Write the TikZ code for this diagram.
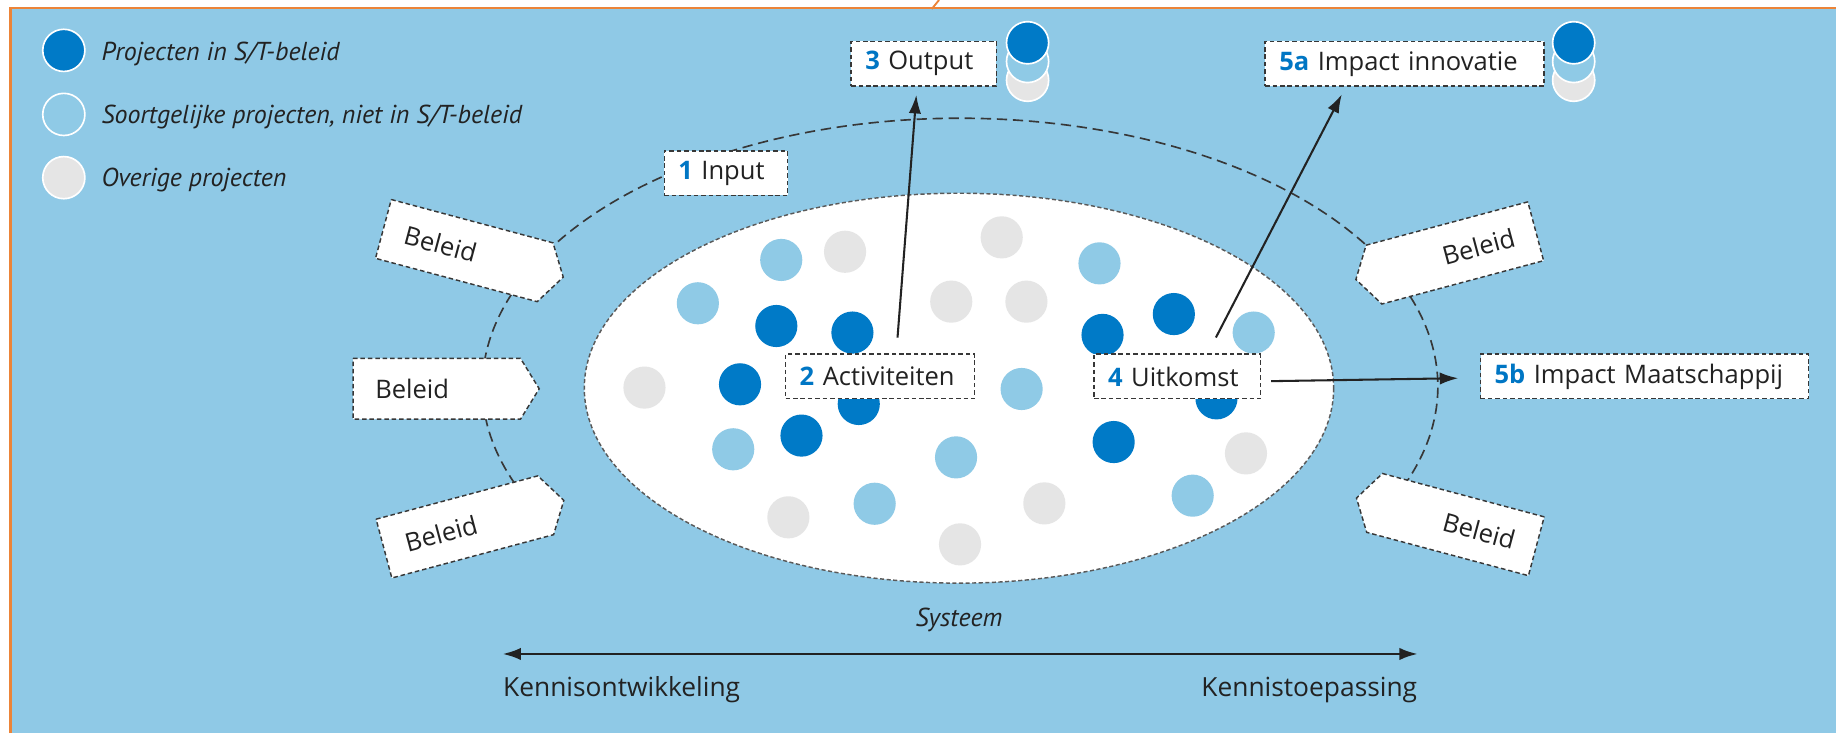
\documentclass[tikz,border=0pt]{standalone}
\usepackage{fontspec}
\setmainfont{Open Sans}
\newfontfamily\legfont{PT Sans}
\usetikzlibrary{arrows.meta}
\definecolor{bgblue}{RGB}{143,201,230}
\definecolor{dkblue}{RGB}{0,122,199}
\definecolor{ltblue}{RGB}{143,202,230}
\definecolor{dotgrey}{RGB}{229,229,229}
\definecolor{numblue}{RGB}{0,118,196}
\definecolor{txtcol}{RGB}{34,34,34}
\definecolor{framecol}{RGB}{236,132,56}
\definecolor{dashcol}{RGB}{55,55,55}
\newcommand{\boxnum}[1]{{\bfseries\color{numblue}#1}}
\tikzset{
  txtfont/.style={font=\fontsize{6.2}{7.4}\selectfont, text=txtcol},
  axfont/.style={font=\fontsize{6.4}{7.6}\selectfont, text=txtcol},
  itfont/.style={font=\legfont\itshape\fontsize{6.3}{7.6}\selectfont, text=txtcol},
  boxline/.style={draw=dashcol, line width=0.35pt, dash pattern=on 1.1pt off 0.7pt},
  lbl/.style={txtfont, boxline, fill=white, minimum height=0.38cm, inner xsep=0.12cm, inner ysep=0pt, align=left},
  arr/.style={draw=txtcol, line width=0.5pt, -{Latex[length=4.5pt,width=3pt]}},
  dotD/.style={fill=dkblue},
  dotL/.style={fill=ltblue},
  dotG/.style={fill=dotgrey},
  legdot/.style={draw=white, line width=0.4pt},
  beleidR/.pic={
    \draw[boxline, fill=white] (-71.5,-26) -- (71.5,-26) -- (87.5,0) -- (71.5,26) -- (-71.5,26) -- cycle;
    \node[txtfont, transform shape, inner sep=0pt] (-t) at (-21,0) {Beleid};
  },
  beleidL/.pic={
    \draw[boxline, fill=white] (71.5,-26) -- (-71.5,-26) -- (-87.5,0) -- (-71.5,26) -- (71.5,26) -- cycle;
    \node[txtfont, transform shape, inner sep=0pt] (-t) at (21,0) {Beleid};
  }
}
\begin{document}
\begin{tikzpicture}[x=0.01cm, y=-0.01cm]
\useasboundingbox (0,0) rectangle (1568,626);
% background and frame
\fill[white] (0,0) rectangle (1568,626);
\fill[bgblue] (10.2,7.7) rectangle (1568,626);
\draw[framecol, line width=0.6pt] (9,626) -- (9,6.7) -- (1568,6.7);
\draw[framecol, line width=0.45pt] (795.7,7.7) -- (802,0);

% legend
\filldraw[legdot, dotD] (54.5,43) circle[radius=18];
\filldraw[legdot, dotL] (54.5,97.7) circle[radius=18];
\filldraw[legdot, dotG] (54.5,151.7) circle[radius=18];
\node[itfont, anchor=base west, inner sep=0pt] (leg1) at (86,51.8) {Projecten in S/T-beleid};
\node[itfont, anchor=base west, inner sep=0pt] (leg2) at (86,105.3) {Soortgelijke projecten, niet in S/T-beleid};
\node[itfont, anchor=base west, inner sep=0pt] (leg3) at (86,158.9) {Overige projecten};

% outer dashed system arc
\draw[draw=dashcol, line width=0.4pt, dash pattern=on 2.5pt off 1.4pt]
  (820,330) ++(150:408 and 229) arc[start angle=150, end angle=390, x radius=408, y radius=229];

% inner white ellipse
\filldraw[fill=white, draw=gray!70!black, line width=0.35pt, dash pattern=on 1pt off 0.6pt]
  (819,331.5) ellipse[x radius=320, y radius=166.5];

% dots
\foreach \p in {(667.2,222),(939,224.9),(596,259),(1070.7,284),(872.5,332.2),(626.2,383.7),(816.5,390.6),(747,430.2),(1018.6,423.3)}
  \fill[dotL] \p circle[radius=18];
\foreach \p in {(721.7,215),(855.5,202.7),(812.4,257.6),(876.6,257.6),(550.4,331),(1064.1,387.2),(673.3,441.8),(891.9,429.9),(819.9,464.9)}
  \fill[dotG] \p circle[radius=18];
\foreach \p in {(663,278.4),(728,284),(1002.5,268.2),(941.6,286),(632,328.2),(733.4,345),(1038.9,340.2),(684.5,372),(951.1,377.5)}
  \fill[dotD] \p circle[radius=18];

% Beleid boxes
\pic (bl1) [rotate=-15] at (396.5,214) {beleidR};
\pic (bl2) at (373,332) {beleidR};
\pic (bl3) [rotate=15] at (397,450) {beleidR};
\pic (br1) [rotate=15] at (1242.5,216) {beleidL};
\pic (br3) [rotate=-15] at (1243,448) {beleidL};

% stacked dots
\filldraw[legdot, dotG] (877.6,68.5) circle[radius=18];
\filldraw[legdot, dotL] (877.6,52.5) circle[radius=18];
\filldraw[legdot, dotD] (877.6,36.5) circle[radius=18];
\filldraw[legdot, dotG] (1344,68.5) circle[radius=18];
\filldraw[legdot, dotL] (1344,52.5) circle[radius=18];
\filldraw[legdot, dotD] (1344,36.5) circle[radius=18];

% labelled boxes
\node[lbl, text width=0.813cm] (input) at (620,147.8) {\boxnum{1} Input};
\node[lbl, text width=1.37cm] (act) at (751.5,321.5) {\boxnum{2} Activiteiten};
\node[lbl, text width=1.18cm] (uit) at (1005.4,321.5) {\boxnum{4} Uitkomst};
\node[lbl, text width=1.00cm] (out) at (789,54.4) {\boxnum{3} Output};
\node[lbl, text width=2.14cm] (imp5a) at (1199.6,54.4) {\boxnum{5a} Impact innovatie};
\node[lbl, text width=2.56cm] (imp5b) at (1404.5,321.5) {\boxnum{5b} Impact Maatschappij};

% arrows
\draw[arr] ([xshift=0.15cm, yshift=0.135cm]act.north) -- ([xshift=-0.064cm, yshift=-0.07cm]out.south);
\draw[arr] ([xshift=0.33cm, yshift=0.136cm]uit.north) -- ([xshift=-0.536cm, yshift=-0.065cm]imp5a.south);
\draw[arr] ([xshift=0.086cm, yshift=-0.04cm]uit.east) -- ([xshift=-0.184cm, yshift=-0.015cm]imp5b.west);

% axis
\node[itfont, anchor=base, inner sep=0pt] (sys) at (819,535) {Systeem};
\node[axfont, anchor=base west, inner sep=0pt] (ko) at (429,595) {Kennisontwikkeling};
\node[axfont, anchor=base east, inner sep=0pt] (kt) at (1211,595) {Kennistoepassing};
\coordinate (axl) at (429,558.5);
\coordinate (axr) at (1211,558.5);
\draw[draw=txtcol, line width=0.7pt, {Latex[length=4.5pt,width=3pt]}-{Latex[length=4.5pt,width=3pt]}] (axl) -- (axr);
\end{tikzpicture}
\end{document}
